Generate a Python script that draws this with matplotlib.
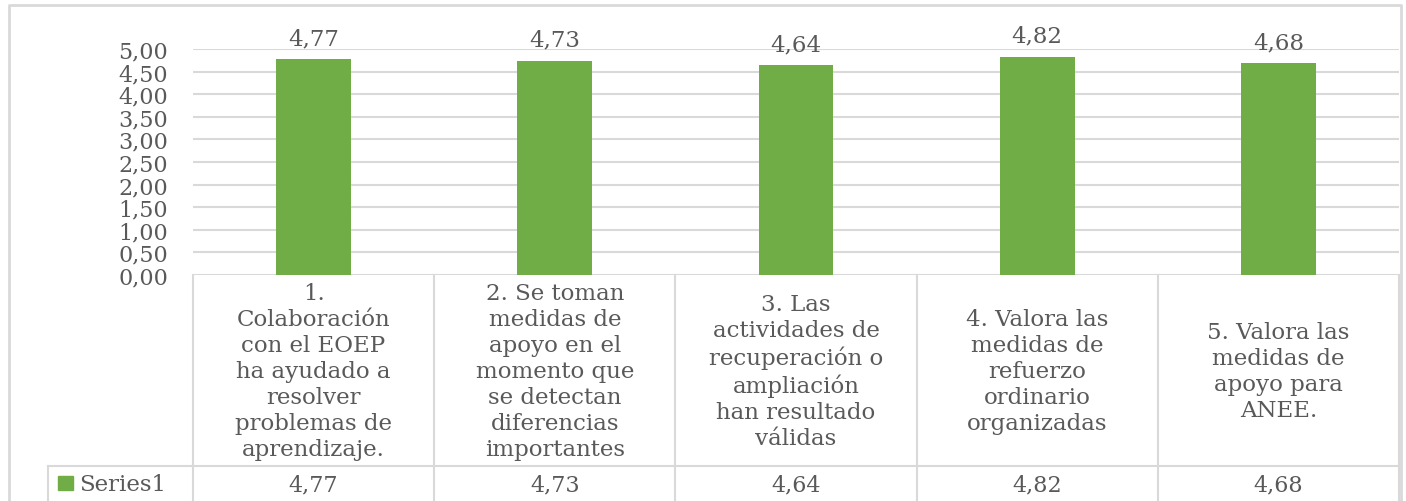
import matplotlib
matplotlib.use("Agg")
import matplotlib.pyplot as plt
from matplotlib.transforms import blended_transform_factory
from matplotlib.lines import Line2D
from matplotlib.patches import Rectangle

# ---------------- data ----------------
categories = [
    "1.\nColaboración\ncon el EOEP\nha ayudado a\nresolver\nproblemas de\naprendizaje.",
    "2. Se toman\nmedidas de\napoyo en el\nmomento que\nse detectan\ndiferencias\nimportantes",
    "3. Las\nactividades de\nrecuperación o\nampliación\nhan resultado\nválidas",
    "4. Valora las\nmedidas de\nrefuerzo\nordinario\norganizadas",
    "5. Valora las\nmedidas de\napoyo para\nANEE.",
]
values = [4.77, 4.73, 4.64, 4.82, 4.68]
series_name = "Series1"
yticks = [0.0, 0.5, 1.0, 1.5, 2.0, 2.5, 3.0, 3.5, 4.0, 4.5, 5.0]


def fmt(v):
    return f"{v:.2f}".replace(".", ",")


# ---------------- style ----------------
W, H = 1406, 502
TXT = "#595959"
GRID = "#d9d9d9"
BAR = "#70ad47"
FONT = "DejaVu Serif"
plt.rcParams["font.family"] = [FONT, "DejaVu Sans"]


def fx(px):
    return px / W


def fy(py):
    return 1 - py / H


fig = plt.figure(figsize=(W / 100, H / 100), dpi=100)
fig.patch.set_facecolor("white")

plot_left, plot_right, plot_top, plot_bottom = 193, 1399, 50, 276
ax = fig.add_axes([fx(plot_left), fy(plot_bottom),
                   fx(plot_right - plot_left), (plot_bottom - plot_top) / H])
x = list(range(len(values)))
ax.bar(x, values, width=0.31, color=BAR, zorder=3)
ax.set_xlim(-0.5, len(values) - 0.5)
ax.set_ylim(0, 5)
ax.set_yticks(yticks)
ax.set_yticklabels([fmt(t) for t in yticks])
ax.set_xticks([])
ax.tick_params(axis="y", length=0, pad=18, labelsize=16, labelcolor=TXT)
for s in ax.spines.values():
    s.set_visible(False)
ax.yaxis.grid(True, color=GRID, lw=1.5, zorder=0)
ax.set_axisbelow(True)

# data labels
for xi, v in zip(x, values):
    ax.annotate(fmt(v), (xi, v), xytext=(0, 11), textcoords="offset points",
                ha="center", va="baseline", fontsize=16.5, color=TXT)

# ---------------- data table ----------------
bt = blended_transform_factory(ax.transData, fig.transFigure)
lw = 1.5
# horizontal line under the category row
ax.add_line(Line2D([-0.5, len(values) - 0.5], [fy(467), fy(467)], transform=bt,
                   color=GRID, lw=lw, clip_on=False))
fig.add_artist(Line2D([fx(48), fx(plot_left)], [fy(467), fy(467)],
                      transform=fig.transFigure, color=GRID, lw=lw))
# vertical column lines
for b in range(len(values) + 1):
    xb = b - 0.5
    ax.add_line(Line2D([xb, xb], [fy(276), fy(H + 2)], transform=bt,
                       color=GRID, lw=lw, clip_on=False))
# legend cell left border
fig.add_artist(Line2D([fx(48), fx(48)], [fy(467), fy(H + 2)],
                      transform=fig.transFigure, color=GRID, lw=lw))

# category texts and values
for xi, cat, v in zip(x, categories, values):
    ax.text(xi, fy(372), cat, transform=bt, ha="center", va="center",
            fontsize=16.5, color=TXT, linespacing=1.24, clip_on=False)
    ax.text(xi, fy(485), fmt(v), transform=bt, ha="center", va="center",
            fontsize=16, color=TXT, clip_on=False)

# legend key
fig.add_artist(Rectangle((fx(58), fy(491)), fx(15), 14 / H,
                         transform=fig.transFigure, color=BAR))
fig.text(fx(79), fy(485), series_name, ha="left", va="center",
         fontsize=16.5, color=TXT)

# outer chart border
fig.add_artist(Line2D([fx(8.5), fx(8.5), fx(1401), fx(1401)],
                      [fy(H + 2), fy(5.5), fy(5.5), fy(H + 2)],
                      transform=fig.transFigure, color=GRID, lw=2))

fig.savefig("out.png", dpi=100, facecolor="white")
